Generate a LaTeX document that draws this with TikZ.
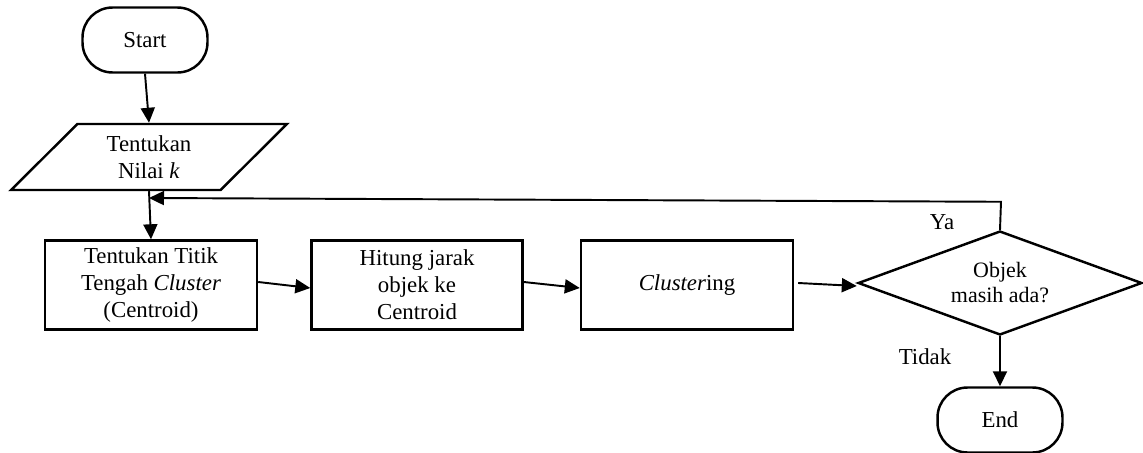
\documentclass[tikz,border=0pt]{standalone}
\usepackage{fontspec}
\setmainfont{Liberation Serif}
\usetikzlibrary{arrows.meta,calc,shapes.geometric}
\tikzset{
    box/.style={draw, line width=1.4pt, minimum height=1.78cm,
                minimum width=4.24cm, inner sep=4pt, align=center},
    terminal/.style={draw, line width=1.4pt, rounded corners=0.6cm,
                     minimum height=1.3cm, minimum width=2.5cm},
    io/.style={trapezium, draw, line width=1.4pt, trapezium left angle=51,
               trapezium right angle=129, trapezium stretches=true,
               minimum width=5.52cm, minimum height=1.32cm, align=center},
    choice/.style={diamond, draw, line width=1.4pt, aspect=2.73,
                   minimum width=5.68cm, minimum height=2.08cm,
                   inner sep=0pt, align=center},
    flow/.style={-{Triangle[length=0.3cm, width=0.28cm]}, line width=1.1pt},
    note/.style={align=center},
}

\begin{document}
\begin{tikzpicture}[x=0.02cm, y=-0.02cm,
    font=\fontsize{13pt}{15.4pt}\selectfont]

    \useasboundingbox (0,0) rectangle (1143,453);

    \node[terminal] (start) at (145,40) {Start};
    \node[io] (input) at (149,157) {Tentukan\\Nilai \textit{k}};
    \node[box] (centroid) at (151,285) {Tentukan Titik\\Tengah \textit{Cluster}\\(Centroid)};
    \node[box, minimum width=4.22cm] (distance) at (417,285) {Hitung jarak\\objek ke\\Centroid};
    \node[box] (cluster) at (687,285) {\textit{Cluster}ing};
    \node[choice, font=\fontsize{12.5pt}{14.2pt}\selectfont] (check) at (1000,283) {Objek\\masih ada?};
    \node[terminal] (finish) at (1000,420) {End};
    \coordinate (loop) at (149,198);

    \draw[flow] (start.south) -- (input.north);
    \draw[flow] (input.south) -- (centroid.north);
    \draw[flow] ([yshift=0.06cm]centroid.east) -- ([yshift=-0.06cm]distance.west);
    \draw[flow] ([yshift=0.06cm]distance.east) -- ([yshift=-0.06cm]cluster.west);
    \draw[flow] ([xshift=0.08cm,yshift=0.04cm]cluster.east) -- ([yshift=-0.06cm]check.west);
    \draw[flow] (check.south) -- (finish.north);
    \draw[flow] (check.north) -- ++(1,-28) -- (loop);
    \node[note] (yes) at (942,222) {Ya};
    \node[note] (no) at (925,357) {Tidak};

\end{tikzpicture}
\end{document}
